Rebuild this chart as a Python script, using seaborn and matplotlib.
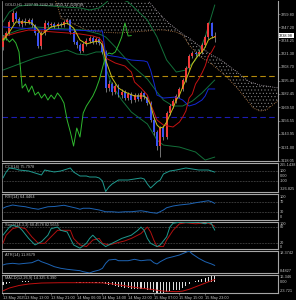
import numpy as np
import matplotlib
matplotlib.use("Agg")
import matplotlib.pyplot as plt
import matplotlib.transforms as mtransforms
import seaborn as sns

# ---------------- data ----------------
price_open = [3227.9, 3236.6, 3241.5, 3252.1, 3260.8, 3255.0, 3250.2, 3253.1, 3252.1, 3254.0,
              3249.2, 3241.5, 3228.9, 3241.5, 3251.1, 3249.2, 3250.2, 3248.2, 3250.2, 3249.2,
              3252.1, 3254.0, 3242.4, 3232.7, 3229.8, 3224.0, 3230.8, 3233.7, 3236.6, 3232.7,
              3235.7, 3231.8, 3223.1, 3188.2, 3192.1, 3184.3, 3190.2, 3181.4, 3184.3, 3178.5,
              3182.4, 3176.6, 3181.4, 3177.6, 3183.4, 3179.5, 3173.7, 3157.2, 3145.6, 3132.1,
              3149.5, 3140.8, 3164.0, 3170.8, 3175.6, 3180.5, 3187.3, 3196.0, 3207.6, 3219.2,
              3222.1, 3221.1, 3223.1, 3229.8, 3237.6, 3251.1, 3237.99]
price_high = [3239.5, 3243.4, 3254.0, 3263.7, 3262.8, 3256.9, 3255.0, 3256.0, 3256.0, 3256.0,
              3250.2, 3243.4, 3243.4, 3254.0, 3253.1, 3252.1, 3252.1, 3252.1, 3252.1, 3254.0,
              3256.0, 3255.0, 3244.4, 3234.7, 3231.8, 3232.7, 3236.6, 3238.6, 3238.6, 3237.6,
              3237.6, 3233.7, 3225.0, 3196.0, 3194.0, 3192.1, 3192.1, 3187.3, 3186.3, 3184.3,
              3184.3, 3183.4, 3183.4, 3185.3, 3185.3, 3181.4, 3175.6, 3159.2, 3147.6, 3151.4,
              3152.4, 3166.0, 3172.7, 3177.6, 3182.4, 3189.2, 3197.9, 3209.5, 3221.1, 3224.0,
              3224.0, 3225.0, 3231.8, 3239.5, 3252.1, 3252.1, 3242.28]
price_low = [3225.0, 3234.7, 3239.5, 3250.2, 3253.1, 3248.2, 3247.3, 3249.2, 3250.2, 3247.3,
             3239.5, 3226.9, 3226.0, 3239.5, 3247.3, 3247.3, 3246.3, 3246.3, 3247.3, 3247.3,
             3250.2, 3240.5, 3230.8, 3226.9, 3222.1, 3223.1, 3228.9, 3231.8, 3230.8, 3230.8,
             3229.8, 3221.1, 3184.3, 3185.3, 3181.4, 3182.4, 3179.5, 3178.5, 3176.6, 3176.6,
             3173.7, 3174.7, 3175.6, 3175.6, 3177.6, 3171.8, 3155.3, 3142.7, 3128.2, 3121.4,
             3137.9, 3138.9, 3162.1, 3168.9, 3173.7, 3178.5, 3185.3, 3194.0, 3205.6, 3217.3,
             3219.2, 3219.2, 3221.1, 3227.9, 3235.7, 3236.6, 3233.11]
price_close = [3236.6, 3241.5, 3252.1, 3260.8, 3255.0, 3250.2, 3253.1, 3252.1, 3254.0, 3249.2,
               3241.5, 3228.9, 3241.5, 3251.1, 3249.2, 3250.2, 3248.2, 3250.2, 3249.2, 3252.1,
               3254.0, 3242.4, 3232.7, 3229.8, 3224.0, 3230.8, 3233.7, 3236.6, 3232.7, 3235.7,
               3231.8, 3223.1, 3188.2, 3192.1, 3184.3, 3190.2, 3181.4, 3184.3, 3178.5, 3182.4,
               3176.6, 3181.4, 3177.6, 3183.4, 3179.5, 3173.7, 3157.2, 3145.6, 3132.1, 3149.5,
               3140.8, 3164.0, 3170.8, 3175.6, 3180.5, 3187.3, 3196.0, 3207.6, 3219.2, 3222.1,
               3221.1, 3223.1, 3229.8, 3237.6, 3251.1, 3238.6, 3238.98]

ma_bars = [0, 2, 4, 6, 9, 11, 12, 13, 15, 18, 20, 22, 24, 26, 28, 30, 31, 32, 34, 36, 38, 41, 44,
           45, 46, 47, 48, 49, 50, 51, 52, 53, 54, 55, 56, 57, 58, 59, 60, 61, 62, 63, 64, 65, 66]
ma_values = [3234.7, 3242.4, 3252.1, 3252.1, 3251.1, 3244.4, 3239.5, 3242.4, 3247.3, 3249.2, 3251.1,
             3246.3, 3234.7, 3230.8, 3232.7, 3233.7, 3229.8, 3215.3, 3197.9, 3188.2, 3184.3, 3180.5,
             3180.5, 3177.6, 3171.8, 3160.1, 3152.4, 3149.5, 3150.5, 3155.3, 3162.1, 3168.9, 3176.6,
             3181.4, 3189.2, 3196.0, 3203.7, 3211.4, 3216.3, 3220.2, 3223.1, 3227.9, 3234.7, 3236.6,
             3237.6]

tenkan_bars = [0, 4, 8, 12, 16, 20, 24, 28, 30, 31, 32, 35, 38, 40, 41, 43, 45, 46, 47, 48, 50, 53,
               55, 56, 57, 58, 59, 60, 61, 62, 63, 64, 65, 66]
tenkan_values = [3237.6, 3241.5, 3244.4, 3243.4, 3242.4, 3241.5, 3240.5, 3238.6, 3236.6, 3232.7,
                 3217.3, 3212.4, 3209.5, 3203.7, 3194.0, 3188.2, 3181.4, 3172.7, 3165.0, 3157.2,
                 3152.4, 3150.5, 3155.3, 3160.1, 3166.0, 3178.5, 3182.4, 3192.1, 3196.9, 3202.7,
                 3209.5, 3219.2, 3223.1, 3228.9]

kijun_bars = [0, 10, 20, 30, 31, 32, 36, 40, 44, 45, 46, 47, 48, 50, 54, 56, 57, 58, 60, 62, 63, 64, 66]
kijun_values = [3247.3, 3245.3, 3244.4, 3243.4, 3243.4, 3220.2, 3218.2, 3215.3, 3214.4, 3213.4,
                3205.6, 3194.0, 3181.4, 3178.5, 3179.5, 3176.6, 3173.7, 3170.8, 3172.7, 3176.6,
                3180.5, 3187.3, 3187.3]

span_bars = [0, 15, 17, 18, 20, 26, 30, 36, 40, 45, 48, 50, 52, 54, 56, 58, 60, 62, 65, 68, 70,
             73, 74, 76, 77, 78, 80, 82, 86]
senkou_a = [3292.8, 3281.1, 3268.6, 3256.0, 3253.1, 3244.4, 3242.4, 3241.5, 3242.4, 3243.4, 3244.4,
            3244.4, 3243.4, 3242.4, 3239.5, 3229.8, 3223.1, 3217.3, 3211.4, 3203.7, 3197.9, 3188.2,
            3184.3, 3176.6, 3172.7, 3168.9, 3165.9, 3166.9, 3176.6]
senkou_b = [3312.1, 3304.4, 3303.4, 3303.4, 3302.4, 3296.6, 3292.8, 3287.0, 3283.1, 3273.4, 3262.8,
            3256.0, 3250.2, 3245.3, 3240.5, 3236.6, 3231.8, 3226.9, 3220.2, 3215.3, 3210.5, 3203.7,
            3200.8, 3196.0, 3194.0, 3193.1, 3191.1, 3190.2, 3188.2]

bb_up_bars = [0, 2, 5, 9, 15, 19, 24, 27, 30, 32, 33, 36, 39, 41, 45, 48, 51, 54, 57, 60, 63, 66]
bb_up_values = [3252.1, 3261.8, 3267.6, 3268.6, 3267.6, 3266.6, 3265.7, 3263.7, 3265.7, 3270.5,
                3273.4, 3275.3, 3271.5, 3265.7, 3254.0, 3237.6, 3215.3, 3203.7, 3205.6, 3215.3,
                3237.6, 3268.6]
bb_mid_bars = [0, 5, 10, 15, 20, 25, 30, 32, 35, 40, 45, 48, 50, 53, 56, 59, 62, 66]
bb_mid_values = [3238.6, 3244.4, 3247.3, 3246.3, 3245.3, 3244.4, 3240.5, 3237.6, 3227.9, 3210.5,
                 3196.9, 3184.3, 3176.6, 3170.8, 3170.8, 3175.6, 3183.4, 3196.0]
bb_low_bars = [0, 5, 10, 15, 20, 23, 26, 29, 31, 32, 34, 37, 40, 45, 48, 50, 55, 60, 63, 66]
bb_low_values = [3205.6, 3211.4, 3217.3, 3221.1, 3225.0, 3221.1, 3220.2, 3223.1, 3223.1, 3207.6,
                 3191.1, 3176.6, 3165.0, 3153.4, 3137.9, 3133.0, 3131.1, 3126.3, 3118.5, 3121.4]

level_gold = 3200.3
level_blue = 3160.6

main_tick_values = [3259.80, 3247.20, 3234.25, 3221.30, 3208.70, 3195.40, 3182.45, 3169.50,
                    3156.55, 3143.95, 3131.00, 3118.05]

cci_bars = [0, 1, 2, 4, 5, 8, 11, 12, 13, 16, 18, 19, 21, 22, 24, 26, 27, 29, 30, 31, 32, 33, 34,
            35, 36, 39, 41, 43, 44, 45, 46, 47, 48, 49, 50, 52, 54, 57, 61, 64, 66]
cci_values = [-46.4, 78.2, 161.3, 140.5, 119.7, 99.0, 36.6, 15.9, 119.7, 78.2, 99.0, 119.7, 161.3,
              78.2, -4.9, -4.9, -25.6, -25.6, -46.4, -108.7, -326.8, -233.3, -171.0, -129.5, -87.9,
              -87.9, -67.2, -46.4, -67.2, -171.0, -254.1, -191.8, -129.5, -87.9, 36.6, 99.0, 119.7,
              161.3, 119.7, 119.7, 75.7978]

rsi_bars = [0, 1, 3, 5, 7, 9, 11, 14, 16, 19, 21, 23, 24, 25, 27, 30, 32, 34, 36, 38, 40, 43, 45,
            46, 48, 50, 51, 53, 55, 58, 60, 62, 63, 64, 65, 66]
rsi_values = [45, 51, 58, 54, 51, 45, 41, 51, 52, 57, 51, 45, 41, 45, 45, 38, 31, 31, 29, 31, 31,
              35, 31, 28, 25, 38, 47, 54, 58, 62, 67, 71, 73, 75, 71, 64.4464]

stoch_main_bars = [0, 2, 3, 5, 6, 8, 10, 12, 14, 15, 17, 18, 20, 21, 22, 24, 26, 27, 28, 30, 32,
                   33, 35, 37, 40, 42, 43, 44, 45, 46, 48, 49, 51, 52, 53, 55, 59, 61, 63, 64, 65, 66]
stoch_main_values = [50, 80, 86, 80, 68, 38, 14, 26, 50, 74, 80, 68, 62, 38, 14, 2, 20, 38, 50, 26,
                     8, 14, 26, 38, 50, 68, 80, 68, 38, 20, 8, 14, 44, 80, 94, 98, 97, 98, 92, 98,
                     92, 68.4578]
stoch_sig_bars = [0, 1, 3, 5, 7, 9, 11, 13, 15, 17, 19, 21, 22, 24, 26, 28, 30, 31, 33, 35, 38, 40,
                  43, 45, 46, 47, 48, 50, 51, 53, 55, 57, 60, 62, 64, 65, 66]
stoch_sig_values = [20, 50, 74, 80, 74, 44, 20, 20, 44, 68, 68, 68, 38, 14, 8, 32, 38, 20, 14, 20,
                    29, 38, 56, 80, 62, 32, 8, 8, 32, 68, 92, 96, 92, 94, 94, 89, 82.5655]

atr_bars = [0, 1, 3, 5, 7, 9, 11, 12, 14, 16, 18, 20, 22, 24, 25, 27, 28, 30, 31, 32, 33, 35, 36,
            39, 41, 43, 45, 46, 47, 48, 49, 51, 53, 55, 58, 59, 61, 63, 65, 66]
atr_values = [12.08, 12.53, 12.84, 12.53, 12.84, 13.11, 14.33, 13.56, 12.53, 11.32, 10.60, 10.15,
              9.83, 9.52, 9.07, 8.4827, 9.07, 9.83, 10.60, 12.84, 14.33, 14.64, 14.01, 14.01, 14.64,
              14.01, 14.33, 14.33, 13.11, 12.53, 13.56, 15.09, 15.81, 16.58, 18.3742, 17.03, 15.09,
              13.56, 12.53, 11.8679]

macd_main = [-6, -4, -2, 0, 1, 1.5, 2, 2, 2, 1.5,
             1, 0, 0, 0.5, 1, 1, 1, 1, 1, 1,
             1, 0.5, 0, -1, -1.5, -1.5, -1, -1, -1, -1,
             -1, -1.5, -3, -5, -7, -8, -10, -11, -12, -13,
             -14, -14.5, -15, -15, -15, -16, -18, -20.5, -23, -23.721,
             -23.5, -22, -20, -18, -16, -16, -13, -9, -4, 0.5,
             3, 5, 7, 9.5, 12.5, 14, 14.325]
macd_sig_bars = [0, 2, 5, 8, 12, 18, 27, 31, 33, 36, 40, 43, 45, 48, 50, 54, 56, 58, 60, 62, 64, 66]
macd_sig_values = [-19, -12.6, -7, -3.7, -1.5, -0.8, -0.8, -1.2, -2.5, -5.5, -10, -13, -14.5, -17.5,
                   -19.5, -20.8, -19.5, -15.5, -10, -4.5, 1, 6.39]

time_tick_bars = [0, 7, 15, 23, 31, 39, 47, 55, 63]
time_labels = ["13 May 2025", "13 May 13:00", "13 May 21:00", "14 May 06:00", "14 May 14:00",
               "14 May 22:00", "15 May 07:00", "15 May 15:00", "15 May 23:00"]

# ---------------- style ----------------
BG = "#000000"
FG = "#c4c4c4"
FRAME = "#a6a6a6"
BULL = "#f03a3a"
BEAR = "#3b52f2"
FS = 2.8

sns.set_theme(style="dark", rc={"axes.facecolor": BG, "figure.facecolor": BG,
                                "axes.grid": False, "hatch.linewidth": 0.35})
plt.rcParams["font.family"] = ["Liberation Sans", "DejaVu Sans"]

W, H = 296, 300
fig = plt.figure(figsize=(W / 100, H / 100), dpi=100)
XMAX = 85.7


def panel(top, bottom):
    ax = fig.add_axes([2 / W, 1 - bottom / H, 276 / W, (bottom - top) / H])
    ax.set_facecolor(BG)
    ax.set_xlim(-0.3, XMAX)
    for s in ax.spines.values():
        s.set_color(FRAME)
        s.set_linewidth(0.8)
    ax.spines["left"].set_linewidth(0.5)
    ax.set_xticks([])
    ax.tick_params(axis="both", which="both", length=0, labelleft=False, labelright=False,
                   labelbottom=False)
    return ax


def line(ax, x, y, color, lw=0.7, ls="-", z=4):
    sns.lineplot(x=list(x), y=list(y), ax=ax, color=color, linewidth=lw, linestyle=ls,
                 estimator=None, sort=False, legend=False, zorder=z)


def rlabel(ax, y, s, va="center"):
    tr = mtransforms.blended_transform_factory(ax.transAxes, ax.transData)
    ax.text(1.006, y, s, transform=tr, fontsize=FS, color=FG, va=va, ha="left", clip_on=False)


def tlabel(ax, s):
    ax.text(0.012, 0.93, s, transform=ax.transAxes, fontsize=FS, color=FG, va="top", ha="left")


def level(ax, v):
    ax.axhline(v, color="#8a8a8a", lw=0.45, ls=(0, (1, 1.5)), zorder=1)


ax_main = panel(0.5, 161)
ax_cci = panel(163, 191.5)
ax_rsi = panel(193.5, 220)
ax_sto = panel(221.5, 249)
ax_atr = panel(251, 273)
ax_macd = panel(275, 293)
ax_main.spines["top"].set_visible(False)

# ---------------- main chart ----------------
ax_main.set_ylim(3117.6, 3272.9)
bars = np.arange(len(price_close))
o = np.array(price_open)
c = np.array(price_close)
hgh = np.array(price_high)
lw_ = np.array(price_low)

# Ichimoku cloud (stippled)
ax_main.fill_between(span_bars, senkou_a, senkou_b, facecolor="none", edgecolor="#8e8e8e",
                     hatch=".....", linewidth=0, zorder=1)
line(ax_main, span_bars, senkou_a, "#c4864e", lw=0.6, ls=":", z=2)
line(ax_main, span_bars, senkou_b, "#b9aeb9", lw=0.6, ls=":", z=2)

ax_main.axhline(level_gold, color="#b58a0c", lw=0.8, ls=(0, (5, 3)), zorder=2)
ax_main.axhline(level_blue, color="#1c1cb4", lw=0.8, ls=(0, (5, 3)), zorder=2)

line(ax_main, bb_up_bars, bb_up_values, "#13703a", lw=0.7, z=2)
line(ax_main, bb_mid_bars, bb_mid_values, "#13703a", lw=0.7, z=2)
line(ax_main, bb_low_bars, bb_low_values, "#13703a", lw=0.7, z=2)

# candles
up = c >= o
ax_main.vlines(bars, lw_, hgh, color="#b4b4b4", lw=0.45, zorder=3)
body = np.where(np.abs(c - o) < 0.5, 0.5, c - o)
ax_main.bar(bars[up], body[up], bottom=o[up], width=0.62, color=BULL, linewidth=0, zorder=3.5)
ax_main.bar(bars[~up], body[~up], bottom=o[~up], width=0.62, color=BEAR, linewidth=0, zorder=3.5)

# chikou span: closes shifted back 26 bars
line(ax_main, bars[:-26], c[26:], "#2fb82f", lw=0.7, z=4)
line(ax_main, kijun_bars, kijun_values, "#1428d6", lw=0.7, z=4)
line(ax_main, tenkan_bars, tenkan_values, "#c41212", lw=0.7, z=4)
line(ax_main, ma_bars, ma_values, "#c9c21a", lw=0.7, z=5)

ax_main.yaxis.tick_right()
ax_main.set_yticks(main_tick_values)
ax_main.set_yticklabels([f"{v:.2f}" for v in main_tick_values])
ax_main.tick_params(axis="y", right=True, length=1.5, width=0.4, color=FRAME, labelcolor=FG,
                    labelsize=FS, pad=0.8, labelright=True)

tr = mtransforms.blended_transform_factory(ax_main.transAxes, ax_main.transData)
ax_main.text(1.004, price_close[-1], f"{price_close[-1]:.2f}", transform=tr, fontsize=FS,
             color="black", va="center", ha="left", clip_on=False, zorder=10,
             bbox=dict(boxstyle="square,pad=0.15", fc="white", ec="none"))
ax_main.text(0.012, 0.988,
             f"GOLD,H1  {price_open[-1]:.2f} {price_high[-1]:.2f} {price_low[-1]:.2f} {price_close[-1]:.2f}",
             transform=ax_main.transAxes, fontsize=FS, color=FG, va="top", ha="left", zorder=10)

# ---------------- CCI ----------------
ax_cci.set_ylim(-326.825, 265.1438)
level(ax_cci, 100)
level(ax_cci, -100)
line(ax_cci, cci_bars, cci_values, "#1f9a8f", lw=0.7)
tlabel(ax_cci, f"CCI(14) {cci_values[-1]:.4f}")
rlabel(ax_cci, 265.1438, "265.1438", va="top")
rlabel(ax_cci, 100, "100")
rlabel(ax_cci, 0, "0.00")
rlabel(ax_cci, -100, "-100")
rlabel(ax_cci, -326.825, "-326.825", va="bottom")

# ---------------- RSI ----------------
ax_rsi.set_ylim(-2, 104)
level(ax_rsi, 70)
level(ax_rsi, 30)
line(ax_rsi, rsi_bars, rsi_values, "#1e64b4", lw=0.7)
tlabel(ax_rsi, f"RSI(14) {rsi_values[-1]:.4f}")
rlabel(ax_rsi, 100, "100", va="top")
rlabel(ax_rsi, 70, "70")
rlabel(ax_rsi, 30, "30")
rlabel(ax_rsi, 0, "0", va="bottom")

# ---------------- Stochastic ----------------
ax_sto.set_ylim(-1, 100.5)
level(ax_sto, 80)
level(ax_sto, 20)
line(ax_sto, stoch_sig_bars, stoch_sig_values, "#b01010", lw=0.7)
line(ax_sto, stoch_main_bars, stoch_main_values, "#1f9a8f", lw=0.7)
tlabel(ax_sto, f"Stoch(14,3,3) {stoch_main_values[-1]:.4f} {stoch_sig_values[-1]:.4f}")
rlabel(ax_sto, 100, "100", va="top")
rlabel(ax_sto, 80, "80")
rlabel(ax_sto, 20, "20")
rlabel(ax_sto, 0, "0", va="bottom")

# ---------------- ATR ----------------
ax_atr.set_ylim(8.4827, 18.3742)
line(ax_atr, atr_bars, atr_values, "#1e64b4", lw=0.7)
tlabel(ax_atr, f"ATR(14) {atr_values[-1]:.4f}")
rlabel(ax_atr, 18.3742, "18.3742", va="top")
rlabel(ax_atr, 8.4827, "8.4827", va="bottom")

# ---------------- MACD ----------------
ax_macd.set_ylim(-23.721, 16.346)
ax_macd.bar(bars, macd_main, width=0.34, color="#dcdcdc", linewidth=0, zorder=2)
line(ax_macd, macd_sig_bars, macd_sig_values, "#c01010", lw=0.7)
tlabel(ax_macd, f"MACD(12,26,9) {macd_main[-1]:.3f} {macd_sig_values[-1]:.3f}")
rlabel(ax_macd, 16.346, "16.346", va="top")
rlabel(ax_macd, 0, "0.00")
rlabel(ax_macd, -23.721, "-23.721", va="bottom")

ax_macd.set_xticks(time_tick_bars)
ax_macd.set_xticklabels(time_labels, ha="left")
ax_macd.tick_params(axis="x", bottom=True, length=1.5, width=0.4, color=FRAME, labelcolor=FG,
                    labelsize=FS, pad=0.6, labelbottom=True)

for ax in (ax_main, ax_cci, ax_rsi, ax_sto, ax_atr, ax_macd):
    ax.set_xlim(-0.3, XMAX)
    ax.set_xlabel("")
    ax.set_ylabel("")

fig.savefig("out.png", dpi=100, facecolor=BG)
